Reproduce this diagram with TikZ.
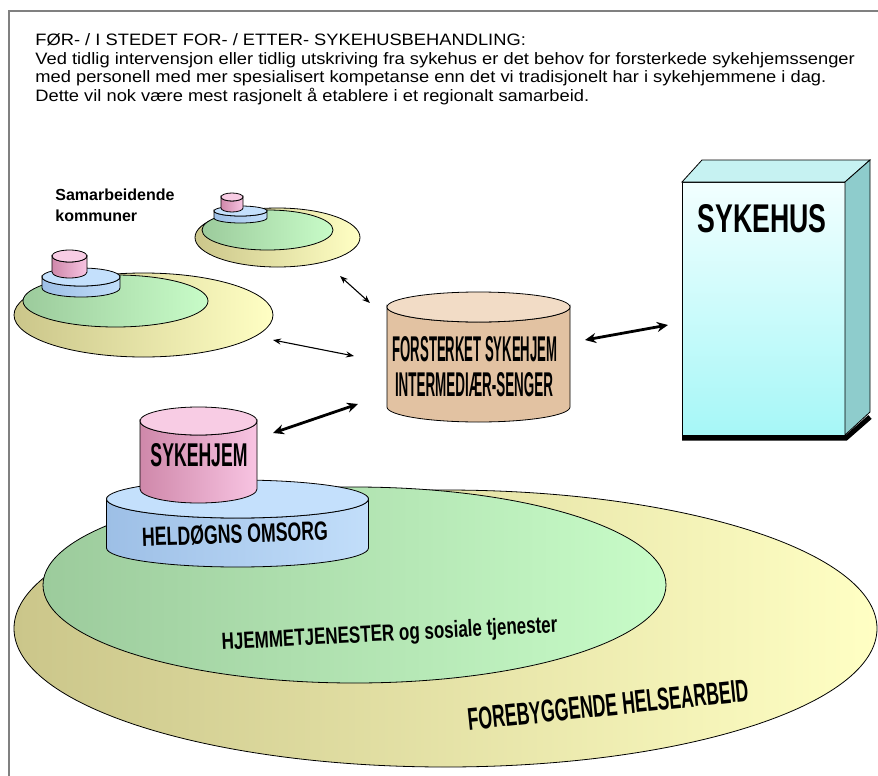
\documentclass[tikz,border=0pt]{standalone}
\usepackage{fontspec}
\setmainfont{Liberation Sans}
\newfontfamily\headfont[FakeStretch=1.11]{Liberation Sans}
\usepackage{graphicx}
\usetikzlibrary{arrows.meta}

\definecolor{yelA}{HTML}{CBC68A}
\definecolor{yelB}{HTML}{FFFFC4}
\definecolor{grnA}{HTML}{9CCB9C}
\definecolor{grnB}{HTML}{C8FCC8}
\definecolor{bluA}{HTML}{9DBFE6}
\definecolor{bluB}{HTML}{C2DEFA}
\definecolor{bluT}{HTML}{C4E0FC}
\definecolor{pnkA}{HTML}{CF88AA}
\definecolor{pnkB}{HTML}{F8C4E2}
\definecolor{pnkT}{HTML}{F8CCE4}
\definecolor{tanA}{HTML}{E2C2A2}
\definecolor{tanB}{HTML}{FAEBDD}
\definecolor{tanT}{HTML}{F2DCC6}
\definecolor{cyF}{HTML}{A6F7F7}
\definecolor{cyT}{HTML}{F2FFFF}
\definecolor{cyS}{HTML}{8ECCCC}
\definecolor{cyTop}{HTML}{C6F2F2}

% drum: cx, top y, rx, ry, height, left/right body colour, top colour
\newcommand{\drum}[8]{%
  \draw[left color=#6, right color=#7] ({#1-#3},#2) -- ++(0,#5)
    arc[start angle=180, end angle=0, x radius=#3, y radius=#4] -- ++(0,-#5)
    arc[start angle=0, end angle=180, x radius=#3, y radius=#4] -- cycle;
  \draw[fill=#8] (#1,#2) ellipse[x radius=#3, y radius=#4];
}
% squeezed bold label: width, cap height, text
\newcommand{\fitlbl}[3]{\resizebox{#1pt}{#2pt}{\bfseries #3}}

\tikzset{
  lbl/.style={inner sep=0pt},
  txt/.style={inner sep=0pt, anchor=base west, font=\headfont\fontsize{16.5}{18.5}\selectfont},
  thinarrow/.style={line width=1.1pt, {Stealth[length=8pt,width=6pt]}-{Stealth[length=8pt,width=6pt]}},
  thickarrow/.style={line width=2.8pt, {Stealth[length=11pt,width=10pt]}-{Stealth[length=11pt,width=10pt]}}
}

\begin{document}
\begin{tikzpicture}[x=1pt,y=-1pt,line width=0.8pt]
\useasboundingbox (0,0) rectangle (878,776);
\draw[gray, line width=1.5pt] (9,776) -- (9,11) -- (878,11);

\node[txt] (head)  at (35,45.5) {FØR- / I STEDET FOR- / ETTER- SYKEHUSBEHANDLING:};
\node[txt] (line1) at (35,64)   {Ved tidlig intervensjon eller tidlig utskriving fra sykehus er det behov for forsterkede sykehjemssenger};
\node[txt] (line2) at (35,82.5) {med personell med mer spesialisert kompetanse enn det vi tradisjonelt har i sykehjemmene i dag.};
\node[txt] (line3) at (35,101)  {Dette vil nok være mest rasjonelt å etablere i et regionalt samarbeid.};

\node[txt, font=\bfseries\fontsize{16}{21}\selectfont] (samarb) at (55,200) {Samarbeidende};
\node[txt, font=\bfseries\fontsize{16}{21}\selectfont] (kommuner) at (55,221) {kommuner};

% main municipality
\draw[left color=yelA, right color=yelB] (445.5,628.5) ellipse[x radius=431.5, y radius=138.5];
\draw[left color=grnA, right color=grnB] (354.5,585) ellipse[x radius=311.5, y radius=98];
\drum{237.5}{499}{131}{19}{49}{bluA}{bluB}{bluT}
\drum{198.5}{421}{58.5}{14}{68}{pnkA}{pnkB}{pnkT}

% small municipalities
\draw[left color=yelA, right color=yelB] (277.5,237.5) ellipse[x radius=82.5, y radius=29.5];
\draw[left color=grnA, right color=grnB] (267.5,230) ellipse[x radius=65.5, y radius=20];
\drum{240.5}{211}{26.5}{5}{7}{bluA}{bluB}{bluT}
\drum{232}{197}{11}{4}{11}{pnkA}{pnkB}{pnkT}

\draw[left color=yelA, right color=yelB] (143.5,315) ellipse[x radius=129.5, y radius=42];
\draw[left color=grnA, right color=grnB] (115.5,301) ellipse[x radius=92.5, y radius=26];
\drum{81}{277}{39}{9}{11}{bluA}{bluB}{bluT}
\drum{69.5}{256}{17.5}{6}{16}{pnkA}{pnkB}{pnkT}

% intermediate beds
\draw[left color=tanA, middle color=tanB, right color=tanA] (387,307) -- ++(0,100)
  arc[start angle=180, end angle=0, x radius=91.5, y radius=15] -- ++(0,-100)
  arc[start angle=0, end angle=180, x radius=91.5, y radius=15] -- cycle;
\draw[fill=tanT] (478.5,307) ellipse[x radius=91.5, y radius=15];

% hospital
\draw[line width=5pt] (682,438) -- (846,438) -- (870,417);
\draw[top color=cyT, bottom color=cyF] (682,182) rectangle (845,435);
\draw[fill=cyTop] (682,182) -- (702,160) -- (870,160) -- (845,182) -- cycle;
\draw[fill=cyS] (845,182) -- (870,160) -- (870,412) -- (845,435) -- cycle;

\node[lbl] (sykehus) at (762,219) {\fitlbl{129}{28}{SYKEHUS}};
\node[lbl] (forst) at (475,349) {\fitlbl{165}{25}{FORSTERKET SYKEHJEM}};
\node[lbl] (inter) at (474,385) {\fitlbl{158}{24}{INTERMEDIÆR-SENGER}};
\node[lbl] (sykehjem) at (199,455) {\fitlbl{97}{23}{SYKEHJEM}};
\node[lbl, rotate=2] (heldogn) at (235,534) {\fitlbl{186}{19}{HELDØGNS OMSORG}};
\node[lbl, anchor=base, rotate=3] (hjemme) at (390,641) {\fitlbl{336}{17}{HJEMMETJENESTER og sosiale tjenester}};
\node[lbl, rotate=6] (forebyg) at (608,705) {\fitlbl{282}{22}{FOREBYGGENDE HELSEARBEID}};

\coordinate (smallA) at (340,276);
\coordinate (smallB) at (370,303);
\coordinate (leftA) at (273,340);
\coordinate (leftB) at (354,356);
\coordinate (homeA) at (273,433);
\coordinate (homeB) at (358,404);
\coordinate (hospA) at (585,340);
\coordinate (hospB) at (668,325);

\path[thinarrow]
(smallA) edge (smallB)
(leftA) edge (leftB)
;
\path[thickarrow]
(homeA) edge (homeB)
(hospA) edge (hospB)
; %end path
\end{tikzpicture}
\end{document}
